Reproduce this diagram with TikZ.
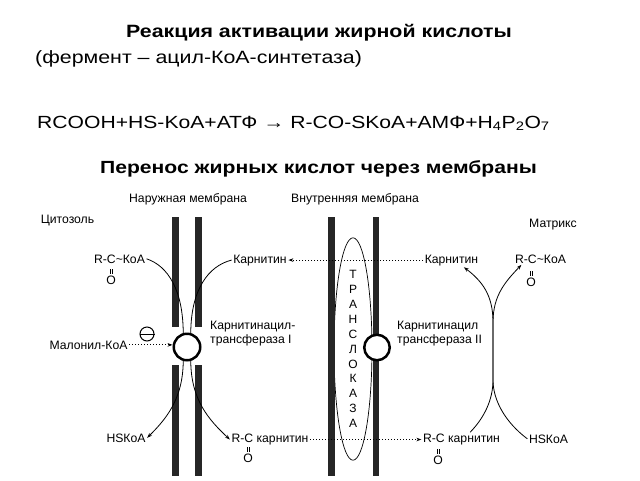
\documentclass[tikz,border=0pt]{standalone}
\usepackage{fontspec}
\setmainfont{Liberation Sans}
\newfontfamily\slidefont[FakeStretch=1.2]{Liberation Sans}
\usetikzlibrary{arrows.meta, shapes.geometric}

\begin{document}
\begin{tikzpicture}[x=1pt, y=-1pt, >={Stealth[length=5pt,width=3.6pt]}, font=\fontsize{12.2}{14}\selectfont]

\tikzset{
  lbl/.style={inner sep=1.5pt, anchor=base},
  slide/.style={inner sep=0pt, font=\slidefont\fontsize{17.8}{21}\selectfont},
  membrane/.style={fill=black!85},
  enzyme/.style={circle, draw, line width=2.5pt, fill=white, inner sep=0pt},
  flow/.style={line width=0.8pt},
  dots/.style={line width=0.8pt, dash pattern=on 0.8pt off 2.2pt},
  bond/.style={line width=0.5pt},
}

\fill[white] (0,0) rectangle (640,480);
\useasboundingbox (0,0) rectangle (640,480);

% Slide text
\node[slide, anchor=base, font=\slidefont\bfseries\fontsize{17.8}{21}\selectfont] (title) at (319,37) {Реакция активации жирной кислоты};
\node[slide, anchor=base west] (enzname) at (35,63) {(фермент – ацил-КоА-синтетаза)};
\node[slide, anchor=base west, font=\slidefont\fontsize{17.6}{21}\selectfont] (reaction) at (37,128) {RCOOH+HS-KoA+АТФ → R-CO-SKoA+AMФ+H\textsubscript{4}P\textsubscript{2}O\textsubscript{7}};
\node[slide, anchor=base, font=\slidefont\bfseries\fontsize{17.6}{21}\selectfont] (transport) at (318.5,173) {Перенос жирных кислот через мембраны};

% Translocase (behind the membranes)
\node[ellipse, draw, line width=0.7pt, minimum width=38, minimum height=178, inner sep=0pt, align=center,
      font=\fontsize{12}{14.9}\selectfont] (transloc) at (353,349) {Т\\Р\\А\\Н\\С\\Л\\О\\К\\А\\З\\А};

% Membranes
\fill[membrane] (172,217) rectangle (179,327);
\fill[membrane] (195,217) rectangle (202,327);
\fill[membrane] (172,365) rectangle (179,476);
\fill[membrane] (195,365) rectangle (202,476);
\fill[membrane] (328,217) rectangle (335,476);
\fill[membrane] (373,217) rectangle (379,476);

% Enzymes
\node[enzyme, minimum size=26.5] (cpt1) at (187,347) {};
\node[enzyme, minimum size=25.5] (cpt2) at (377,347.5) {};
\node[circle, draw, line width=1pt, minimum size=14, inner sep=0pt] (inhib) at (147,334) {};
\draw[line width=1pt] (inhib.west) -- (inhib.east);

% Labels
\node[lbl] (outerlbl) at (188,202) {Наружная мембрана};
\node[lbl] (innerlbl) at (355,202) {Внутренняя мембрана};
\node[lbl] (cytosol) at (67.5,223) {Цитозоль};
\node[lbl] (matrix) at (553,227) {Матрикс};

\node[lbl] (rckoaL) at (119.5,263) {R-C\textasciitilde КоА};
\node[lbl, anchor=center] (oL) at (111,280) {O};
\node[lbl] (karnL) at (260,263) {Карнитин};
\node[lbl] (karnR) at (451.5,263) {Карнитин};
\node[lbl] (rckoaR) at (540.5,263) {R-C\textasciitilde КоА};
\node[lbl, anchor=center] (oR) at (531,282) {O};

\node[lbl] (malonyl) at (88.5,349) {Малонил-КоА};
\node[lbl, anchor=base west, align=left] (cpt1lbl) at (208.5,343) {Карнитинацил-\\трансфераза I};
\node[lbl, anchor=base west, align=left] (cpt2lbl) at (395.5,343) {Карнитинацил\\трансфераза II};

\node[lbl] (hskoaL) at (126,442) {HSКоА};
\node[lbl] (rckarnL) at (270,442.5) {R-C карнитин};
\node[lbl, anchor=center] (oRCL) at (248,458) {O};
\node[lbl] (rckarnR) at (461.5,442.5) {R-C карнитин};
\node[lbl, anchor=center] (oRCR) at (438,460) {O};
\node[lbl] (hskoaR) at (548.5,443) {HSКоА};

% Double bonds
\foreach \o in {oL, oR, oRCL, oRCR}
  \draw[bond] ([xshift=-1.2pt]\o.north) -- ++(0,-5) ([xshift=1.2pt]\o.north) -- ++(0,-5);

% Outer membrane
\draw[flow] (rckoaL.east) .. controls (168,266) and (183,290) .. (cpt1.105);
\draw[flow] (karnL.west) .. controls (208,266) and (191,290) .. (cpt1.75);
\draw[flow, ->] (cpt1.255) .. controls (183,400) and (165,420) .. (hskoaL.east);
\draw[flow, ->] (cpt1.285) .. controls (191,400) and (209,420) .. (rckarnL.west);
\draw[dots, ->] (malonyl.east) -- (malonyl.east -| cpt1.west);

% Through the inner membrane
\draw[dots, ->] (karnR.west) -- (karnL.east);
\draw[dots, ->] (rckarnL.east) -- (rckarnR.west);

% Matrix
\coordinate (jtop) at (493,322);
\coordinate (jbot) at (493,380);
\draw[flow, ->] (rckarnR.40) .. controls (484,418) and (493,400) .. (jbot) -- (jtop)
  .. controls (493,295) and (482,281) .. (karnR.-30);
\draw[flow, ->] (hskoaR.west) .. controls (505,422) and (493,400) .. (jbot) -- (jtop)
  .. controls (493,295) and (506,281) .. ([xshift=8pt]rckoaR.south west);

\end{tikzpicture}
\end{document}
